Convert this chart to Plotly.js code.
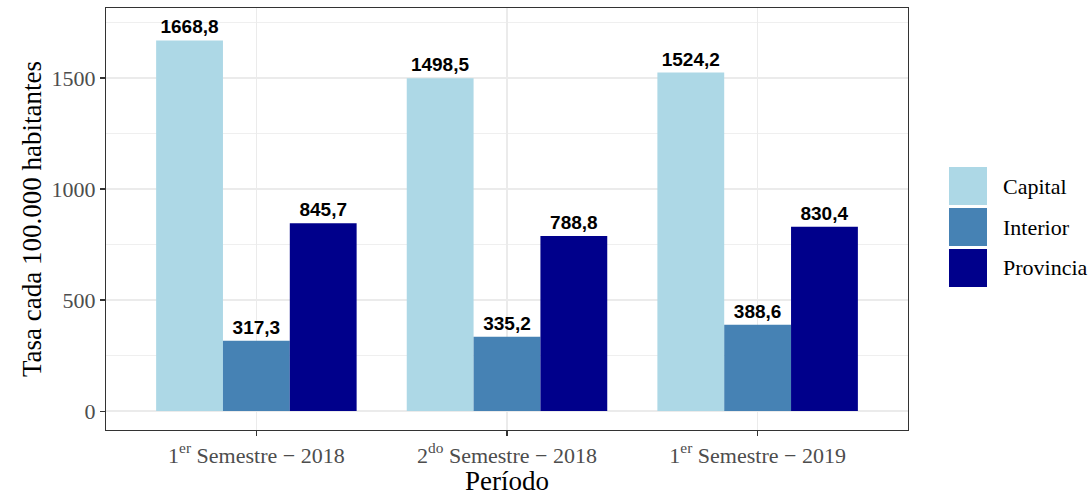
<!DOCTYPE html>
<html>
<head>
<meta charset="utf-8">
<script src="https://cdn.plot.ly/plotly-3.0.1.min.js"></script>
<style>html,body{margin:0;padding:0;background:#fff;}#chart{width:1092px;height:496px;}</style>
</head>
<body>
<div id="chart"></div>
<script>
const periods = ["1<sup>er</sup> Semestre − 2018", "2<sup>do</sup> Semestre − 2018", "1<sup>er</sup> Semestre − 2019"];
const seriesNames = ["Capital", "Interior", "Provincia"];
const capital = [1668.8, 1498.5, 1524.2];
const interior = [317.3, 335.2, 388.6];
const provincia = [845.7, 788.8, 830.4];
const colors = ["#ADD8E6", "#4682B4", "#00008B"];
const yTicks = [0, 500, 1000, 1500];
const xTitle = 'Período';
const yTitle = 'Tasa cada 100.000 habitantes';

const values = [capital, interior, provincia];
const fmt = v => v.toFixed(1).replace('.', ',');

const traces = values.map((vals, i) => ({
  type: 'bar',
  name: seriesNames[i],
  x: periods,
  y: vals,
  marker: {color: colors[i], line: {width: 0}},
  text: vals.map(fmt),
  textposition: 'outside',
  cliponaxis: false,
  constraintext: 'none',
  textfont: {family: 'Liberation Sans, Arial, sans-serif', size: 19, color: '#000', weight: 'bold'},
  showlegend: false,
  hoverinfo: 'x+y'
}));

// plot area in pixels
const L = 106, R = 908, T = 8, B = 430, W = 1092, H = 496;
const px = x => (x - L) / (R - L);
const py = y => (B - y) / (B - T);

const shapes = [];
const annotations = [];
const keyTop = 167, keyH = 38, keyStep = 41;
seriesNames.forEach((n, i) => {
  const y0 = keyTop + i * keyStep;
  shapes.push({type: 'rect', xref: 'paper', yref: 'paper',
    x0: px(949), x1: px(987), y0: py(y0 + keyH), y1: py(y0),
    fillcolor: colors[i], line: {width: 0}});
  annotations.push({xref: 'paper', yref: 'paper', x: px(1001), y: py(y0 + keyH / 2),
    xanchor: 'left', yanchor: 'middle', showarrow: false, text: n,
    font: {family: 'Liberation Serif, serif', size: 22, color: '#000'}});
});

const layout = {
  width: W, height: H,
  margin: {l: L, r: W - R, t: T, b: H - B, pad: 0},
  paper_bgcolor: '#fff', plot_bgcolor: '#fff',
  barmode: 'group', bargap: 0.2, bargroupgap: 0,
  showlegend: false,
  font: {family: 'Liberation Serif, serif'},
  xaxis: {
    type: 'category', range: [-0.6, 2.6],
    showgrid: true, gridcolor: '#ebebeb', gridwidth: 1.5,
    showline: true, mirror: true, linecolor: '#333', linewidth: 1.2,
    ticks: 'outside', ticklen: 5, tickcolor: '#333', tickwidth: 1.2,
    tickfont: {family: 'Liberation Serif, serif', size: 22, color: '#4d4d4d'},
    title: {text: xTitle, font: {family: 'Liberation Serif, serif', size: 27, color: '#000'}, standoff: 10},
    zeroline: false, fixedrange: true
  },
  yaxis: {
    range: [-85, 1815],
    tickvals: yTicks, ticktext: yTicks.map(String),
    showgrid: true, gridcolor: '#ebebeb', gridwidth: 1.5,
    minor: {tickvals: [250, 750, 1250, 1750], showgrid: true, gridcolor: '#ebebeb', gridwidth: 0.8, ticks: ''},
    showline: true, mirror: true, linecolor: '#333', linewidth: 1.2,
    ticks: 'outside', ticklen: 5, tickcolor: '#333', tickwidth: 1.2,
    tickfont: {family: 'Liberation Serif, serif', size: 22, color: '#4d4d4d'},
    title: {text: yTitle, font: {family: 'Liberation Serif, serif', size: 27, color: '#000'}, standoff: 2},
    zeroline: false, fixedrange: true
  },
  shapes: shapes,
  annotations: annotations
};

Plotly.newPlot('chart', traces, layout, {displayModeBar: false, staticPlot: true});
</script>
</body>
</html>
